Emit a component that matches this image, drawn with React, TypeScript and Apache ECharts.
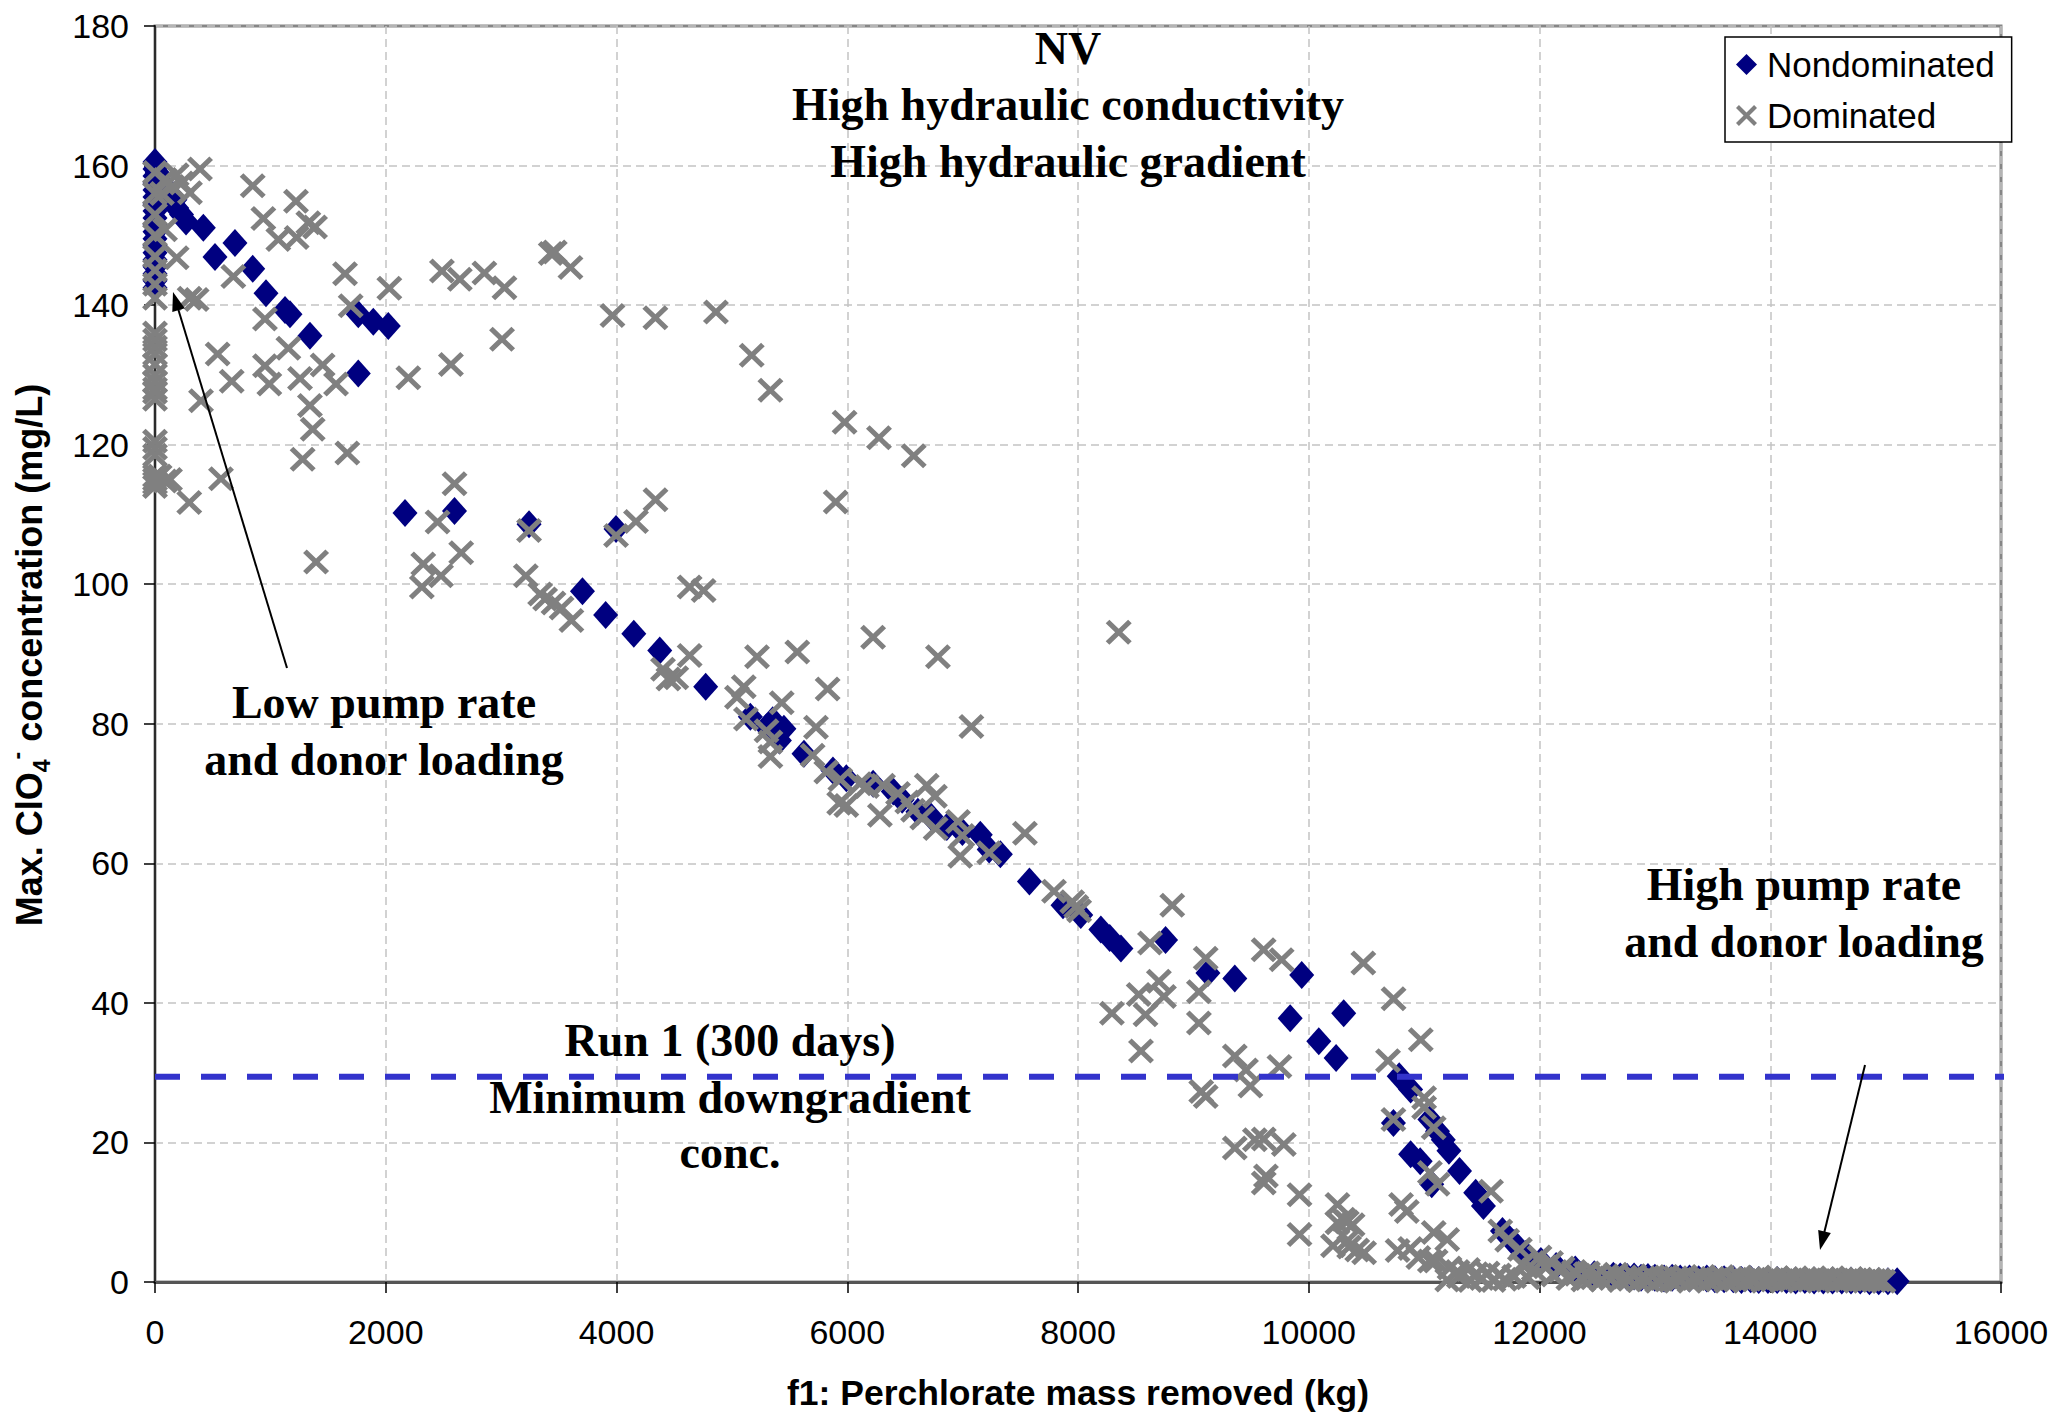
import React, { useEffect, useRef } from "react";
import * as echarts from "echarts";

// ---------------- DATA ----------------
const xTickStep = 2000;
const yTickStep = 20;
const criterionLevel = 29.4; // Run 1 (300 days) minimum downgradient conc.

const nondominated: [number, number][] = [
  [0, 160.5], [0, 159.5], [0, 158.5], [0, 157.5], [0, 156.5], [0, 155.5], [0, 154.5], [0, 153.5],
  [0, 152.5], [0, 151.5], [0, 150.5], [0, 149.5], [0, 148.5], [0, 147.5], [0, 146.5], [0, 145.5],
  [0, 144.5], [0, 143.5], [0, 142.5], [20, 159], [40, 158], [60, 157.5], [87, 157], [130, 156],
  [173, 155.1], [188, 153.9], [230, 153], [269, 152], [419, 151.1], [520, 146.9], [693, 148.9],
  [847, 145.2], [962, 141.7], [1127, 139.3], [1170, 138.7], [1343, 135.6], [1762, 138.7],
  [1892, 137.6], [2022, 137.0], [1762, 130.2], [2167, 110.2], [2596, 110.5], [3242, 108.6],
  [3996, 107.9], [3705, 99.0], [3906, 95.6], [4150, 92.9], [4375, 90.5], [4773, 85.3],
  [5160, 81.0], [5300, 79.5], [5354, 80.5], [5451, 79.3], [5412, 77.6], [5625, 75.7], [5876, 73.3],
  [5992, 72.2], [6224, 71.4], [6399, 70.3], [6476, 69.1], [6612, 67.4], [6725, 66.7], [6863, 65.2],
  [6998, 64.5], [7153, 64.1], [7230, 62.0], [7327, 61.3], [7579, 57.4], [7870, 54.0], [8024, 52.6],
  [8198, 50.5], [8275, 49.3], [8372, 47.8], [8759, 49.0], [9126, 44.3], [9359, 43.5], [9939, 44.0],
  [9839, 37.8], [10303, 38.5], [10087, 34.5], [10237, 32.1], [10784, 29.5], [10883, 27.6],
  [10734, 22.8], [11050, 23.3], [11116, 21.6], [11166, 20.4], [11215, 18.8], [10883, 18.3],
  [10966, 17.3], [11066, 14.0], [11307, 15.9], [11447, 12.8], [11514, 10.9], [11679, 7.3],
  [11779, 5.6], [11879, 4.0], [12012, 3.0], [12144, 2.3], [12310, 1.8], [12475, 1.1], [12640, 0.9],
  [12700, 0.8], [12760, 0.7], [12820, 0.8], [12880, 0.6], [12940, 0.7], [13000, 0.6], [13080, 0.5],
  [13150, 0.6], [13220, 0.5], [13300, 0.5], [13380, 0.4], [13450, 0.5], [13520, 0.4], [13600, 0.4],
  [13680, 0.4], [13750, 0.3], [13830, 0.4], [13900, 0.3], [13980, 0.3], [14060, 0.3], [14140, 0.3],
  [14220, 0.2], [14300, 0.3], [14380, 0.2], [14460, 0.2], [14540, 0.2], [14620, 0.2], [14700, 0.2],
  [14780, 0.2], [14860, 0.1], [14940, 0.1], [15020, 0.1], [15100, 0.1],
];

const dominated: [number, number][] = [
  [0, 159], [0, 156], [0, 153], [0, 150], [0, 147], [0, 145], [0, 143], [0, 141],
  [0, 136], [0, 135], [0, 134], [0, 133], [0, 131.5], [0, 130], [0, 129],
  [0, 128], [0, 127.5], [0, 126.5], [0, 120.5], [0, 119.5], [0, 118.5], [0, 115.5], [0, 115],
  [0, 114.5], [0, 114],
  [87, 158], [188, 158.7], [231, 157.5], [303, 156.1], [390, 159.5], [150, 157], [60, 156],
  [87, 150.8], [188, 146.8], [361, 140.8], [300, 141], [87, 114.8], [40, 115.5], [130, 115],
  [847, 157.1], [1222, 154.9], [939, 152.4], [1329, 151.8], [1387, 151.2], [1069, 149.4],
  [1228, 149.7], [679, 144.1], [1647, 144.5], [2031, 142.4], [1696, 139.9], [953, 138.0],
  [1156, 133.8], [543, 133.0], [953, 131.3], [1453, 131.4], [665, 129.1], [991, 128.7],
  [1257, 129.5], [1569, 128.7], [2196, 129.6], [399, 126.3], [1343, 125.6], [1367, 122.2],
  [1280, 117.9], [1667, 118.8], [572, 115.1], [297, 111.7], [1396, 103.2],
  [2487, 144.9], [2642, 143.7], [2855, 144.6], [3029, 142.5], [3430, 147.4], [3465, 147.6],
  [3601, 145.4], [3965, 138.5], [4337, 138.2], [3008, 135.1], [2565, 131.5], [2596, 114.4],
  [4862, 139.0], [5172, 132.8], [5334, 127.8], [5977, 123.2], [6275, 121.0], [6576, 118.4],
  [4338, 112.1], [5900, 111.8],
  [2449, 108.9], [2654, 104.5], [2325, 102.9], [2479, 101.2], [2313, 99.6], [3242, 107.7],
  [3996, 107.0], [4169, 109.0], [3214, 101.2], [3338, 98.6], [3381, 97.9], [3454, 97.3],
  [3524, 96.6], [3609, 94.8], [4403, 87.8], [4518, 86.6], [4450, 86.4], [4634, 89.8], [4634, 99.6],
  [4755, 99.1], [8353, 93.1], [6224, 92.4], [6786, 89.6], [5567, 90.3], [5218, 89.6], [5103, 85.3],
  [5044, 83.8], [5830, 85.0], [5432, 83.0], [5122, 80.7], [5300, 79.0], [5334, 77.4], [5334, 75.3],
  [5729, 79.5], [7076, 79.6], [5700, 75.5], [5818, 73.1], [5940, 72.0], [5992, 68.3], [5930, 68.6],
  [6108, 71.4], [6170, 71.0], [6310, 71.2], [6283, 66.9], [6440, 70.0], [6520, 68.8], [6570, 67.6],
  [6689, 71.2], [6760, 69.6], [6650, 66.5], [6766, 65.0], [6960, 66.0], [6998, 64.0], [6979, 61.0],
  [7230, 61.5], [7540, 64.3], [7792, 56.0],
  [7985, 53.8], [7950, 54.5], [8010, 53.2], [8817, 54.0], [8624, 48.6], [9107, 46.4], [9609, 47.6],
  [9765, 46.2], [8701, 43.1], [8526, 41.2], [8745, 40.9], [8294, 38.5], [8585, 38.3], [9048, 41.6],
  [9048, 37.1], [8546, 33.1], [9359, 32.4], [9456, 30.4], [9494, 28.1], [9746, 30.9], [9068, 27.3],
  [9107, 26.6], [9359, 19.2], [9533, 20.4], [9610, 20.5], [9784, 19.7], [9629, 15.2], [9610, 14.2],
  [9920, 12.5], [9920, 6.8], [10249, 11.1], [10249, 8.5], [10210, 5.2],
  [10473, 45.7], [10735, 40.6], [10971, 34.7], [10687, 31.7], [10734, 23.3], [11000, 26.4],
  [11000, 25.0], [11083, 22.1], [11050, 15.7], [11116, 14.0], [11580, 13.0], [10800, 11.1],
  [10850, 10.1], [11083, 7.1], [11200, 6.1], [10300, 9.0], [10330, 8.6], [10380, 8.2], [10340, 6.0],
  [10350, 5.0], [10420, 4.6], [10480, 4.2], [10770, 4.5], [10880, 4.8], [10950, 3.5], [11050, 3.0],
  [11100, 3.0], [11220, 2.0], [11290, 1.5], [11380, 1.8], [11450, 1.2], [11550, 1.3], [11650, 1.0],
  [11780, 0.8], [11660, 7.3], [11720, 6.0], [11830, 4.7], [12000, 3.6], [12100, 2.8], [12200, 2.0],
  [12300, 1.5], [12400, 1.2], [11200, 0.3], [11300, 0.8], [11400, 0.2], [11500, 0.5], [11600, 0.2],
  [11700, 0.4], [11850, 2.5], [11900, 0.6], [11950, 1.8], [12050, 2.2], [12120, 1.0], [12180, 1.6],
  [12250, 0.5], [12320, 1.1], [12380, 0.3],
  [12420, 1.3], [12460, 0.6], [12500, 1.0], [12540, 0.3], [12580, 0.9], [12620, 0.5], [12660, 1.1],
  [12700, 0.2], [12740, 0.7], [12780, 0.4], [12820, 0.9], [12860, 0.2], [12900, 0.6], [12940, 0.3],
  [12980, 0.8], [13020, 0.1], [13060, 0.5], [13100, 0.7], [13140, 0.2], [13180, 0.6], [13220, 0.4],
  [13260, 0.8], [13300, 0.1], [13340, 0.5], [13380, 0.3], [13420, 0.7], [13460, 0.2], [13500, 0.5],
  [13540, 0.4], [13580, 0.8], [13620, 0.1], [13660, 0.5], [13700, 0.3], [13740, 0.6], [13780, 0.2],
  [13820, 0.5], [13860, 0.4], [13900, 0.7], [13940, 0.1], [13980, 0.4], [14020, 0.3], [14060, 0.6],
  [14100, 0.2], [14140, 0.5], [14180, 0.3], [14220, 0.6], [14260, 0.1], [14300, 0.4], [14340, 0.3],
  [14380, 0.5], [14420, 0.2], [14460, 0.5], [14500, 0.3], [14540, 0.6], [14580, 0.1], [14620, 0.4],
  [14660, 0.2], [14700, 0.5], [14740, 0.3], [14780, 0.4], [14820, 0.1], [14860, 0.4], [14900, 0.2],
  [14940, 0.3], [14980, 0.1],
];

const criterionLine: [number, number][] = [
  [0, criterionLevel],
  [16100, criterionLevel],
];

// ---------------- STYLE ----------------
const SANS = '"Liberation Sans", Arial, sans-serif';
const SERIF = '"Liberation Serif", "Times New Roman", serif';
const X_SYMBOL =
  "path://M0,14 L14,0 L50,36 L86,0 L100,14 L64,50 L100,86 L86,100 L50,64 L14,100 L0,86 L36,50 Z";

function arrow(x1: number, y1: number, x2: number, y2: number) {
  const dx = x2 - x1;
  const dy = y2 - y1;
  const len = Math.sqrt(dx * dx + dy * dy);
  const ux = dx / len;
  const uy = dy / len;
  const head = 19;
  const half = 6.5;
  const bx = x2 - ux * head;
  const by = y2 - uy * head;
  const nx = -uy;
  const ny = ux;
  return [
    {
      type: "line",
      shape: { x1, y1, x2: bx + ux * 2, y2: by + uy * 2 },
      style: { stroke: "#000", lineWidth: 2 },
      z: 10,
    },
    {
      type: "polygon",
      shape: {
        points: [
          [x2, y2],
          [bx + nx * half, by + ny * half],
          [bx - nx * half, by - ny * half],
        ],
      },
      style: { fill: "#000" },
      z: 10,
    },
  ];
}

function label(text: string, x: number, y: number) {
  return {
    type: "text",
    x,
    y,
    z: 10,
    style: {
      text,
      fontFamily: SERIF,
      fontWeight: "bold",
      fontSize: 46,
      fill: "#000",
      align: "center",
      verticalAlign: "middle",
    },
  };
}

export default function App() {
  const ref = useRef<HTMLDivElement>(null);

  useEffect(() => {
    if (!ref.current) return;
    const chart = echarts.init(ref.current, undefined, { renderer: "svg" });

    const option: any = {
      animation: false,
      backgroundColor: "#ffffff",
      grid: {
        left: 155,
        right: 54,
        top: 26,
        bottom: 125,
        show: true,
        borderColor: "#868686",
        borderWidth: 3,
        backgroundColor: "transparent",
      },
      legend: {
        left: 1725,
        top: 37,
        orient: "vertical",
        padding: [10, 17, 9, 11],
        itemGap: 16,
        itemWidth: 21,
        itemHeight: 21,
        backgroundColor: "#ffffff",
        borderColor: "#000000",
        borderWidth: 1.5,
        borderRadius: 0,
        textStyle: { fontFamily: SANS, fontSize: 35, color: "#000", padding: [0, 0, 0, 5] },
        data: [
          { name: "Nondominated", icon: "diamond" },
          { name: "Dominated", icon: X_SYMBOL },
        ],
      },
      xAxis: {
        type: "value",
        min: 0,
        max: 16000,
        interval: xTickStep,
        name: "f1: Perchlorate mass removed (kg)",
        nameLocation: "middle",
        nameGap: 93,
        nameTextStyle: { fontFamily: SANS, fontSize: 35.5, fontWeight: "bold", color: "#000" },
        axisLine: { show: true, onZero: false, lineStyle: { color: "#555555", width: 3 } },
        axisTick: { show: true, length: 11, lineStyle: { color: "#000", width: 1.5 } },
        axisLabel: {
          fontFamily: SANS,
          fontSize: 34,
          color: "#000",
          margin: 33,
          formatter: (v: number) => String(v),
        },
        splitLine: { show: true, lineStyle: { color: "#c4c4c4", width: 1.5, type: [8, 5] } },
      },
      yAxis: {
        type: "value",
        min: 0,
        max: 180,
        interval: yTickStep,
        axisLine: { show: true, onZero: false, lineStyle: { color: "#2b2b2b", width: 2 } },
        axisTick: { show: true, length: 11, lineStyle: { color: "#000", width: 1.5 } },
        axisLabel: {
          fontFamily: SANS,
          fontSize: 34,
          color: "#000",
          margin: 26,
          formatter: (v: number) => String(v),
        },
        splitLine: { show: true, lineStyle: { color: "#c4c4c4", width: 1.5, type: [8, 5] } },
      },
      series: [
        {
          name: "Run 1 criterion",
          type: "line",
          data: criterionLine,
          symbol: "none",
          showSymbol: false,
          clip: false,
          silent: true,
          lineStyle: { color: "#3333cc", width: 6, type: [25, 21] },
        },
        {
          name: "Nondominated",
          type: "scatter",
          data: nondominated,
          symbol: "diamond",
          symbolSize: [25, 28],
          clip: false,
          itemStyle: { color: "#000080", opacity: 1 },
        },
        {
          name: "Dominated",
          type: "scatter",
          data: dominated,
          symbol: X_SYMBOL,
          symbolSize: [26, 25],
          clip: false,
          itemStyle: { color: "#808080", opacity: 1 },
        },
      ],
      graphic: [
        label("NV", 1068, 48),
        label("High hydraulic conductivity", 1068, 104),
        label("High hydraulic gradient", 1068, 161),
        label("Low pump rate", 384, 702),
        label("and donor loading", 384, 759),
        label("Run 1 (300 days)", 730, 1040),
        label("Minimum downgradient", 730, 1097),
        label("conc.", 730, 1152),
        label("High pump rate", 1804, 884),
        label("and donor loading", 1804, 941),
        ...arrow(287, 668, 173, 292),
        ...arrow(1865, 1065, 1820, 1250),
        {
          type: "text",
          x: 29,
          y: 655,
          rotation: Math.PI / 2,
          z: 10,
          style: {
            text: "{b|Max. ClO}{s|4}{p|-}{b| concentration (mg/L)}",
            align: "center",
            verticalAlign: "middle",
            fill: "#000",
            rich: {
              b: { fontFamily: SANS, fontWeight: "bold", fontSize: 36, lineHeight: 48, fill: "#000" },
              s: {
                fontFamily: SANS,
                fontWeight: "bold",
                fontSize: 23,
                lineHeight: 23,
                verticalAlign: "bottom",
                fill: "#000",
              },
              p: {
                fontFamily: SANS,
                fontWeight: "bold",
                fontSize: 23,
                lineHeight: 23,
                verticalAlign: "top",
                fill: "#000",
              },
            },
          },
        },
      ],
    };

    chart.setOption(option);
    return () => chart.dispose();
  }, []);

  return (
    <div
      ref={ref}
      style={{ position: "fixed", left: 0, top: 0, width: "2055px", height: "1416px", background: "#fff" }}
    />
  );
}
